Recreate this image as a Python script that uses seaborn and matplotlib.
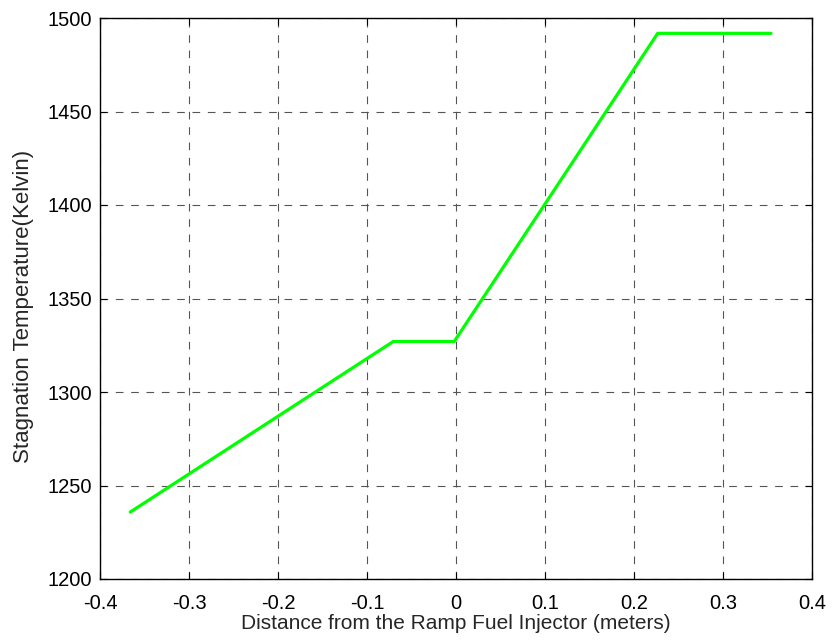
import numpy as np
import pandas as pd
import matplotlib
matplotlib.use("Agg")
import matplotlib.pyplot as plt
import seaborn as sns

distance = [-0.366, -0.0705, -0.002, 0.2266, 0.354]
temperature = [1235.8, 1327.0, 1327.0, 1491.8, 1491.8]
x_ticks = [-0.4, -0.3, -0.2, -0.1, 0, 0.1, 0.2, 0.3, 0.4]
x_tick_labels = ["-0.4", "-0.3", "-0.2", "-0.1", "0", "0.1", "0.2", "0.3", "0.4"]
y_ticks = [1200, 1250, 1300, 1350, 1400, 1450, 1500]
y_tick_labels = ["1200", "1250", "1300", "1350", "1400", "1450", "1500"]

sns.set_style("white")
plt.rcParams['font.family'] = ['Liberation Sans', 'DejaVu Sans']

df = pd.DataFrame({"x": distance, "y": temperature})

fig = plt.figure(figsize=(8.33, 6.43), dpi=100)
ax = fig.add_axes([100/833, 64/643, 712/833, 561/643])
sns.lineplot(data=df, x="x", y="y", ax=ax, color="#00ff00", linewidth=2.3, sort=False, estimator=None)

ax.set_xlim(-0.4, 0.4)
ax.set_ylim(1200, 1500)
ax.set_xticks(x_ticks)
ax.set_xticklabels(x_tick_labels)
ax.set_yticks(y_ticks)
ax.set_yticklabels(y_tick_labels)
ax.grid(True, linestyle=(0, (6.9, 6.9)), color="#555555", linewidth=0.8)
ax.tick_params(direction="in", length=5, width=0.8, labelsize=14.5, colors="black",
               top=True, right=True, bottom=True, left=True)
ax.tick_params(axis="x", pad=10.5)
ax.tick_params(axis="y", pad=5.5)
for s in ax.spines.values():
    s.set_color("black")
    s.set_linewidth(1.0)
ax.set_xlabel("Distance from the Ramp Fuel Injector (meters)", fontsize=15, labelpad=1)
ax.set_ylabel("Stagnation Temperature(Kelvin)", fontsize=16)
ax.yaxis.set_label_coords(-0.092, 0.485)

fig.savefig("out.png", dpi=100)
